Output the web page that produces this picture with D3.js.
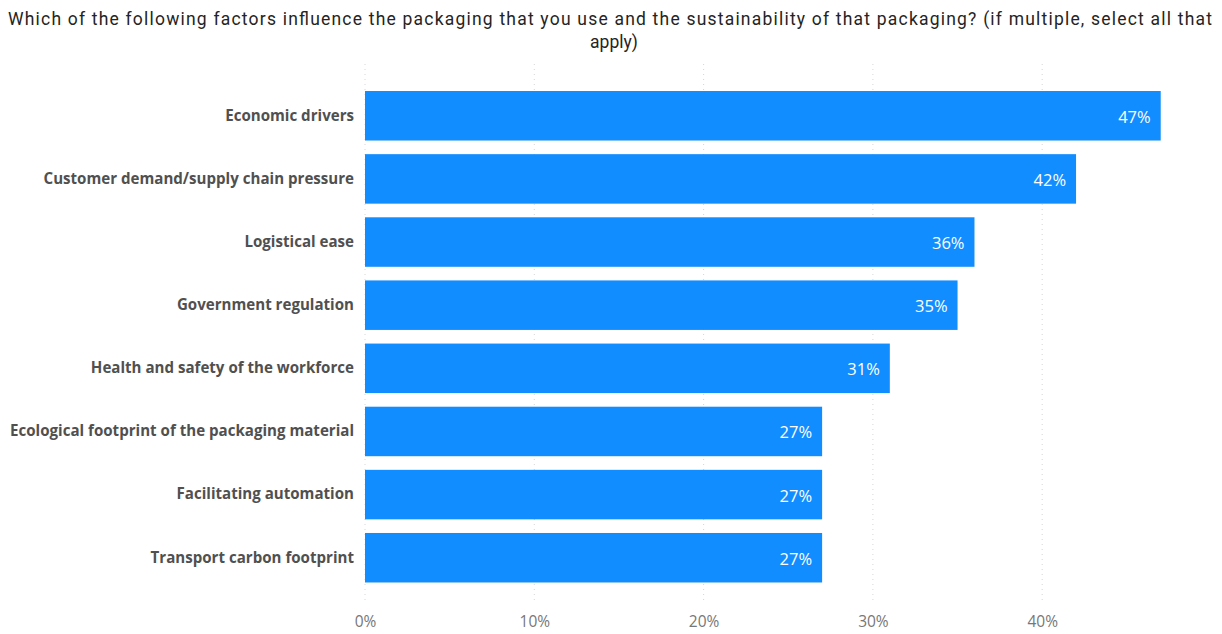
<!DOCTYPE html>
<html><head><meta charset="utf-8">
<script src="https://cdn.jsdelivr.net/npm/d3@7"></script>
<style>body{margin:0;background:#fff;}svg{display:block;}</style>
</head><body>
<svg id="c" width="1222" height="634"></svg>
<script>
const categories = ["Economic drivers","Customer demand/supply chain pressure","Logistical ease","Government regulation","Health and safety of the workforce","Ecological footprint of the packaging material","Facilitating automation","Transport carbon footprint"];
const values = [47,42,36,35,31,27,27,27];
const ticks = [0,10,20,30,40];
const titleLines = ["Which of the following factors influence the packaging that you use and the sustainability of that packaging? (if multiple, select all that","apply)"];

const svg = d3.select("#c");
const x = d3.scaleLinear().domain([0,10]).range([365,534.3]);
const y = d3.scaleBand().domain(categories).range([84.2,589.3]).paddingInner(0.216).paddingOuter(0.108);

const tl = svg.append("g").selectAll("text").data(titleLines).join("text")
  .attr("x",(d,i)=>i===0?8:614).attr("y",(d,i)=>25+i*23).attr("text-anchor",(d,i)=>i===0?"start":"middle")
  .style("font-family","Roboto, sans-serif").style("font-size","17.5px").style("fill","#252423")
  .text(d=>d);
tl.filter((d,i)=>i===0).attr("textLength",1204).attr("lengthAdjust","spacing");

// grid
svg.append("g").selectAll("line").data(ticks).join("line")
  .attr("x1",d=>x(d)).attr("x2",d=>x(d)).attr("y1",64).attr("y2",602)
  .attr("stroke","#d6d6d6").attr("stroke-width",1).attr("stroke-dasharray","1,4");

const xAxis = d3.axisBottom(x).tickValues(ticks).tickFormat(d=>d+"%").tickSize(0).tickPadding(0);
const gx = svg.append("g").attr("transform","translate(0,627)").call(xAxis);
gx.select(".domain").remove();
gx.selectAll("text").attr("dy",0).style("font-family","'Open Sans', sans-serif").style("font-size","15.5px").style("fill","#777");

const yAxis = d3.axisLeft(y).tickSize(0).tickPadding(11);
const gy = svg.append("g").attr("transform","translate(365,0)").call(yAxis);
gy.select(".domain").remove();
gy.selectAll("text").style("font-family","'Open Sans', sans-serif").style("font-weight","700").style("font-size","15.1px").style("fill","#505050");

svg.append("g").selectAll("rect").data(values).join("rect")
  .attr("x",x(0)).attr("y",(d,i)=>y(categories[i])).attr("width",d=>x(d)-x(0)).attr("height",y.bandwidth())
  .attr("fill","#118DFF");

svg.append("g").selectAll("text").data(values).join("text")
  .attr("x",d=>x(d)-10).attr("y",(d,i)=>y(categories[i])+y.bandwidth()/2+7).attr("text-anchor","end")
  .style("font-family","'Open Sans', sans-serif").style("font-size","16.5px").style("fill","#fff")
  .text(d=>d+"%");
</script>
</body></html>
